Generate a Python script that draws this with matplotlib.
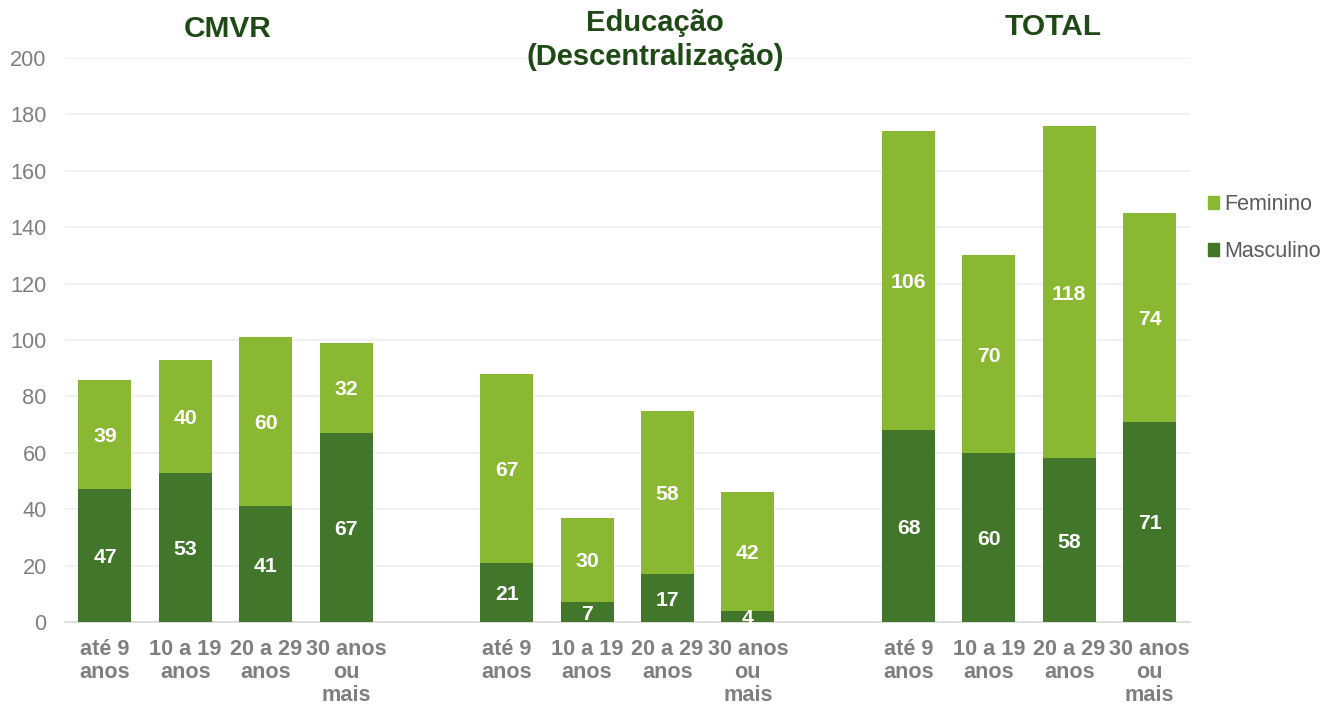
import matplotlib
matplotlib.use("Agg")
import matplotlib.pyplot as plt
from matplotlib.patches import Patch

plt.rcParams['font.family'] = ['Liberation Sans', 'DejaVu Sans']

groups = ["CMVR", "Educação\n(Descentralização)", "TOTAL"]
age_labels = ["até 9\nanos", "10 a 19\nanos", "20 a 29\nanos", "30 anos\nou\nmais"]
masculino = {
    "CMVR": [47, 53, 41, 67],
    "Educação": [21, 7, 17, 4],
    "TOTAL": [68, 60, 58, 71],
}
feminino = {
    "CMVR": [39, 40, 60, 32],
    "Educação": [67, 30, 58, 42],
    "TOTAL": [106, 70, 118, 74],
}

c_masc = "#41762B"
c_fem = "#8AB833"
c_title = "#1E4A16"
c_tick = "#7F7F7F"

fig = plt.figure(figsize=(13.22, 7.04), dpi=100)
ax = fig.add_axes([0.049, 0.1165, 0.851, 0.801])

keys = ["CMVR", "Educação", "TOTAL"]
xs, labels = [], []
width = 0.66
for gi, k in enumerate(keys):
    base = gi * 5
    for i in range(4):
        x = base + i
        m = masculino[k][i]
        f = feminino[k][i]
        ax.bar(x, m, width, color=c_masc, zorder=3)
        ax.bar(x, f, width, bottom=m, color=c_fem, zorder=3)
        ax.text(x, m / 2, str(m), ha="center", va="center_baseline", color="white",
                fontsize=15.3, fontweight="bold", zorder=4)
        ax.text(x, m + f / 2, str(f), ha="center", va="center_baseline", color="white",
                fontsize=15.3, fontweight="bold", zorder=4)
        xs.append(x)
        labels.append(age_labels[i])

ax.set_xlim(-0.5, 13.5)
ax.set_ylim(0, 200)
ax.set_yticks(range(0, 201, 20))
ax.set_xticks(xs)
ax.set_xticklabels(labels, fontsize=15.6, fontweight="bold", color=c_tick,
                   linespacing=1.13, va="top")
ax.tick_params(axis="x", length=0, pad=12)
ax.tick_params(axis="y", length=0, pad=13, labelsize=15.7, labelcolor=c_tick)
for sp in ["top", "right", "left"]:
    ax.spines[sp].set_visible(False)
ax.spines["bottom"].set_color("#D9D9D9")
ax.spines["bottom"].set_linewidth(1.2)
ax.grid(axis="y", color="#EFEFEF", linewidth=1.2, zorder=0)
ax.set_axisbelow(True)

fig.text(228 / 1322, 1 - 29 / 704, groups[0], ha="center", va="center",
         fontsize=21.5, fontweight="bold", color=c_title)
fig.text(655 / 1322, 1 - 40 / 704, groups[1], ha="center", va="center",
         fontsize=21, fontweight="bold", color=c_title, linespacing=1.25)
fig.text(1053 / 1322, 1 - 27 / 704, groups[2], ha="center", va="center",
         fontsize=21.5, fontweight="bold", color=c_title)

handles = [Patch(color=c_fem, label="Feminino"), Patch(color=c_masc, label="Masculino")]
fig.legend(handles=handles, loc="center left", bbox_to_anchor=(1199 / 1322, 1 - 228 / 704),
           frameon=False, fontsize=15.5, labelcolor="#595959", handlelength=0.55,
           handleheight=0.55, handletextpad=0.2, labelspacing=1.2, borderaxespad=0)

fig.savefig("out.png", dpi=100)
